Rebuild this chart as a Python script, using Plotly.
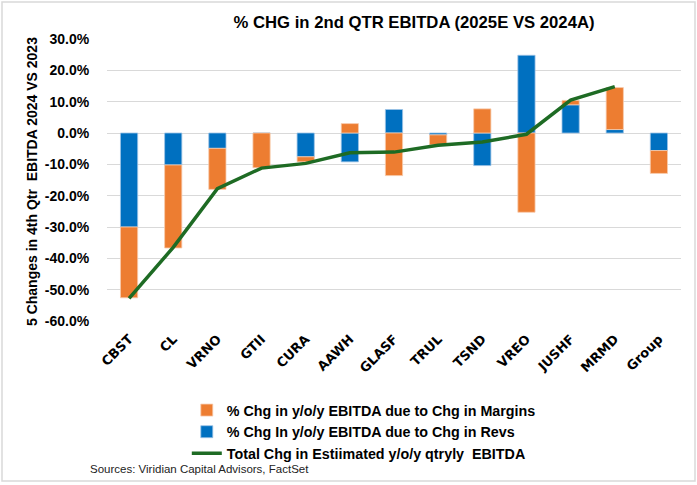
import plotly.graph_objects as go

categories = ["CBST", "CL", "VRNO", "GTII", "CURA", "AAWH", "GLASF", "TRUL",
              "TSND", "VREO", "JUSHF", "MRMD", "Group"]
revs = [-30.0, -10.2, -4.9, 0.0, -7.6, -9.2, 7.5, -0.6, -10.4, 24.8, 9.0, 1.1, -5.6]
margins = [-22.6, -26.5, -13.1, -11.1, -1.6, 3.0, -13.6, -3.2, 7.7, -25.3, 1.4, 13.4, -7.3]
total = [-52.8, -36.5, -17.8, -11.2, -9.7, -6.3, -6.1, -3.9, -2.9, -0.4, 10.5, 14.8, None]

y_ticks = list(range(-60, 31, 10))
y_ticktext = [f"{v:.1f}%" for v in y_ticks]

orange = "#ED7D31"
blue = "#0070C0"
green = "#1E6B24"

fig = go.Figure()
fig.add_trace(go.Bar(
    x=categories, y=revs, name="% Chg In y/o/y EBITDA due to Chg in Revs",
    marker=dict(color=blue, line=dict(color="#9DC3E6", width=0.8)),
    legendrank=2,
))
fig.add_trace(go.Bar(
    x=categories, y=margins, name="% Chg in y/o/y EBITDA due to Chg in Margins",
    marker=dict(color=orange, line=dict(color="#F8CBAD", width=0.8)),
    legendrank=1,
))
fig.add_trace(go.Scatter(
    x=categories, y=total, name="Total Chg in Estiimated y/o/y qtryly  EBITDA",
    mode="lines", line=dict(color=green, width=3.5), legendrank=3,
))

fig.update_layout(
    width=697, height=485,
    margin=dict(l=107, r=16, t=39, b=164, autoexpand=False),
    paper_bgcolor="white", plot_bgcolor="white",
    barmode="relative", bargap=0.61,
    font=dict(family="Liberation Sans, Arial, sans-serif", color="black"),
    title=dict(
        text="<b>% CHG in 2nd QTR EBITDA (2025E VS 2024A)</b>",
        xref="container", yref="container", x=0.594, y=0.955,
        xanchor="center", yanchor="middle",
        font=dict(size=16.7, family="Liberation Sans, Arial", color="black"),
    ),
    showlegend=True,
    legend=dict(
        xref="container", yref="container", x=0.268, y=0.187,
        xanchor="left", yanchor="top",
        font=dict(size=14.3, family="Liberation Sans, Arial", weight="bold"),
        itemwidth=30, tracegroupgap=0, bgcolor="rgba(0,0,0,0)",
        traceorder="normal",
    ),
    xaxis=dict(
        tickangle=-45, showgrid=False, showline=False, ticks="",
        ticklabelstandoff=7,
        tickfont=dict(size=13, family="DejaVu Sans", color="black", weight="bold"),
    ),
    yaxis=dict(
        range=[-60, 30], tickvals=y_ticks, ticktext=y_ticktext,
        showgrid=True, gridcolor="#D9D9D9", gridwidth=1,
        zeroline=False, showline=False,
        ticks="outside", ticklen=14, tickcolor="rgba(0,0,0,0)",
        tickfont=dict(size=14, family="Liberation Sans, Arial", color="black", weight="bold"),
    ),
    shapes=[dict(type="rect", xref="paper", yref="paper",
                 x0=-105/574, x1=1 + 14/574, y0=-160/282, y1=1 + 37/282,
                 line=dict(color="#D9D9D9", width=1.5), fillcolor="rgba(0,0,0,0)",
                 layer="below")],
    annotations=[
        dict(text="<b>5 Changes in 4th Qtr  EBITDA 2024 VS 2023</b>",
             xref="paper", yref="paper", x=-75/574, y=(321 - 182) / 282,
             xanchor="center", yanchor="middle", textangle=-90, showarrow=False,
             font=dict(size=14, family="Liberation Sans, Arial", color="black")),
        dict(text="Sources: Viridian Capital Advisors, FactSet",
             xref="paper", yref="paper", x=-19/574, y=-148/282,
             xanchor="left", yanchor="middle", showarrow=False,
             font=dict(size=11.5, family="Liberation Sans, Arial", color="#222222")),
    ],
)

fig.write_html("out.html", config={"displayModeBar": False},
               post_script="document.body.style.margin='0px';")
